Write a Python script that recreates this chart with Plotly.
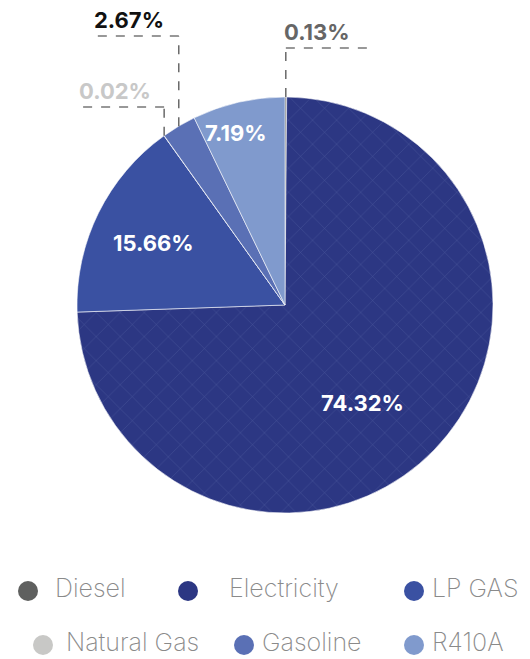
import plotly.graph_objects as go
import math

# Energy sources and their share of consumption (%)
sources = ["Diesel", "Electricity", "LP GAS", "Natural Gas", "Gasoline", "R410A"]
shares = [0.13, 74.32, 15.66, 0.02, 2.67, 7.19]
colors = ["#5f605f", "#2c3783", "#3a51a2", "#c8c8c6", "#5a70b5", "#809acd"]

# Which slices get an in-slice label vs. an outside callout
inside_label = [False, True, True, False, False, True]
callout_color = {"Diesel": "#666666", "Natural Gas": "#c8c8c8", "Gasoline": "#111111"}

W, H = 530, 659
CX, CY, R = 285, 305, 208          # pie centre and radius in pixels

fig = go.Figure()

fig.add_trace(go.Pie(
    labels=sources,
    values=shares,
    sort=False,
    direction="clockwise",
    rotation=0,
    textinfo="none",
    marker=dict(
        colors=colors,
        line=dict(color="rgba(255,255,255,0.7)", width=0.8),
        pattern=dict(
            shape=["", "x", "", "", "", ""],
            fgcolor="rgba(170,185,235,0.5)",
            size=17,
            solidity=0.05,
            fillmode="overlay",
        ),
    ),
    domain=dict(x=[(CX - R) / W, (CX + R) / W], y=[1 - (CY + R) / H, 1 - (CY - R) / H]),
    showlegend=False,
    hoverinfo="label+value",
))

total = sum(shares)
label_font = dict(family="Inter", size=22, weight=700)

# In-slice labels: placed along each slice's bisector (radial fraction, angular nudge in deg)
inside_place = {"Electricity": (0.60, 7.5), "LP GAS": (0.70, -1.0), "R410A": (0.86, -3.0)}

# Callouts for the thin slices: vertical leader from the rim, then a horizontal run
callout_level = {"Diesel": 48, "Natural Gas": 107, "Gasoline": 36}
callout_side = {"Diesel": 1, "Natural Gas": -1, "Gasoline": -1}
RUN = 83

cum = 0.0
for name, v, show in zip(sources, shares, inside_label):
    mid = (cum + v / 2) / total
    cum += v
    th = 2 * math.pi * mid
    if show:
        frac, nudge = inside_place[name]
        a = th + math.radians(nudge)
        fig.add_annotation(
            x=CX + frac * R * math.sin(a), y=CY - frac * R * math.cos(a),
            xref="x", yref="y", text=f"{v:.2f}%", showarrow=False,
            font=dict(label_font, color="white"),
        )
        continue
    ex = CX + R * math.sin(th)
    ey = CY - R * math.cos(th)
    ly = callout_level[name]
    side = callout_side[name]
    hx = ex + side * RUN
    line_style = dict(color="#333333", width=1.1, dash="dash")
    fig.add_shape(type="line", xref="x", yref="y", x0=ex, y0=ey, x1=ex, y1=ly, line=line_style)
    fig.add_shape(type="line", xref="x", yref="y", x0=ex, y0=ly, x1=hx, y1=ly, line=line_style)
    fig.add_annotation(
        x=min(ex, hx) - 4, y=ly - 1, xref="x", yref="y",
        text=f"{v:.2f}%", showarrow=False, xanchor="left", yanchor="bottom",
        font=dict(label_font, color=callout_color[name]),
    )

# Custom legend with round markers
leg_marker_x = [28, 188, 414, 43, 244, 414]
leg_text_x = [55, 229, 432, 66, 262, 432]
leg_y = [591, 591, 591, 645, 645, 645]

fig.add_trace(go.Scatter(
    x=leg_marker_x, y=leg_y, mode="markers",
    marker=dict(size=20, color=colors, line=dict(width=0)),
    showlegend=False, hoverinfo="skip", cliponaxis=False,
))
fig.add_trace(go.Scatter(
    x=leg_text_x, y=leg_y, mode="text", text=sources,
    textposition="middle right",
    textfont=dict(family="Inter", size=25, color="#8a8a8a", weight=200),
    showlegend=False, hoverinfo="skip", cliponaxis=False,
))

fig.update_layout(
    width=W, height=H,
    margin=dict(l=0, r=0, t=0, b=0),
    paper_bgcolor="white", plot_bgcolor="rgba(0,0,0,0)",
    xaxis=dict(range=[0, W], visible=False, fixedrange=True),
    yaxis=dict(range=[H, 0], visible=False, fixedrange=True),
)

fig.write_html("out.html")
